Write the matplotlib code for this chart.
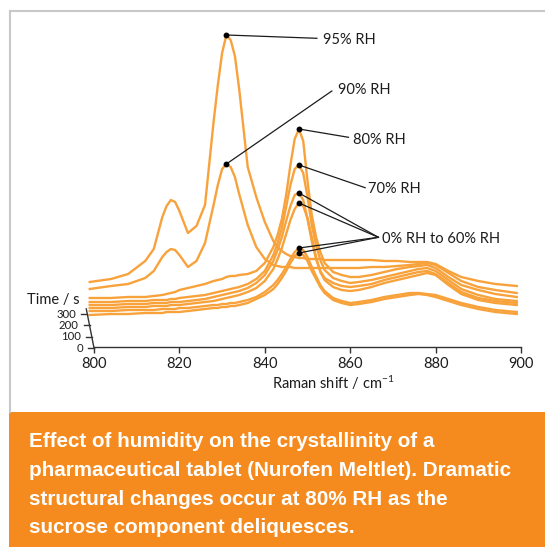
import matplotlib
matplotlib.use("Agg")
import matplotlib.pyplot as plt
from matplotlib.lines import Line2D
from matplotlib.patches import Rectangle
import numpy as np

plt.rcParams['font.family'] = ['Lato', 'DejaVu Sans']
plt.rcParams['mathtext.fontset'] = 'custom'
plt.rcParams['mathtext.rm'] = 'Lato'
plt.rcParams['mathtext.default'] = 'regular'

# ---------------------------------------------------------------- data
# Raman shift grid (cm-1) shared by all spectra
shift = [799, 804, 808, 812, 814, 816, 817, 818, 819, 820, 822, 824, 826, 828,
         829, 830, 831, 832, 833, 834, 836, 838, 840, 842, 843, 844, 845, 846,
         847, 848, 849, 850, 851, 852, 853, 854, 856, 858, 860, 862, 865, 868,
         871, 874, 876, 878, 880, 883, 886, 890, 894, 899]

# Stacked intensities (a.u., including waterfall offset)
rh95 = [65, 68, 73, 86, 98, 130, 141, 147, 145, 136, 114, 121, 142, 225,
        262, 294, 312, 307, 291, 258, 180, 150, 125, 106, 100, 96, 93, 91,
        90, 89, 89, 88, 88, 88, 88, 87, 87, 87, 87, 87, 87, 86,
        86, 85, 85, 85, 83, 76, 70, 66, 63, 61]
rh90 = [58, 61, 63, 69, 76, 90, 95, 98, 97, 92, 80, 86, 104, 142,
        162, 178, 183, 180, 170, 153, 122, 100, 88, 82, 81, 80, 80, 80,
        79, 79, 79, 79, 79, 79, 79, 79, 79, 79, 79, 79, 80, 80,
        81, 82, 83, 84, 82, 74, 66, 60, 57, 54]
rh80 = [49, 49, 50, 50, 51, 52, 53, 54, 55, 57, 59, 61, 63, 66,
        67, 68, 70, 71, 71, 72, 73, 76, 84, 100, 112, 128, 152, 182,
        208, 218, 206, 166, 132, 110, 95, 84, 75, 72, 70, 70, 72, 75,
        78, 80, 81, 82, 79, 70, 62, 57, 53, 50]
rh70 = [45, 45, 46, 46, 47, 47, 47, 48, 48, 49, 50, 51, 52, 54,
        55, 56, 57, 58, 59, 60, 63, 68, 76, 92, 104, 119, 140, 162,
        178, 182, 174, 150, 122, 102, 87, 77, 69, 66, 64, 65, 67, 70,
        73, 76, 78, 79, 76, 67, 58, 52, 48, 46]
rh_low1 = [42, 42, 43, 43, 44, 44, 44, 45, 45, 45, 46, 47, 48, 50,
           51, 52, 53, 54, 55, 56, 59, 64, 72, 86, 97, 110, 126, 141,
           152, 154, 147, 128, 106, 88, 76, 69, 64, 61, 60, 61, 63, 67,
           70, 73, 75, 76, 73, 64, 55, 49, 46, 44]
rh_low2 = [39, 39, 40, 40, 41, 41, 41, 42, 42, 42, 43, 44, 45, 46,
           47, 48, 49, 50, 51, 52, 55, 59, 66, 78, 88, 99, 113, 127,
           138, 144, 141, 129, 110, 90, 75, 67, 60, 57, 56, 57, 60, 64,
           67, 70, 72, 74, 72, 62, 53, 47, 44, 42]
rh_low3 = [36, 36, 37, 37, 37, 38, 38, 38, 38, 39, 39, 40, 41, 42,
           42, 43, 43, 44, 44, 45, 47, 50, 55, 62, 67, 73, 80, 88,
           95, 99, 97, 90, 80, 71, 62, 56, 49, 46, 44, 45, 47, 50,
           52, 54, 54, 53, 52, 48, 44, 40, 37, 35]
rh_low4 = [32, 33, 33, 34, 34, 34, 35, 35, 35, 35, 36, 37, 38, 39,
           39, 40, 40, 41, 41, 42, 44, 48, 52, 58, 63, 69, 76, 84,
           91, 94, 92, 86, 76, 68, 60, 54, 47, 44, 42, 43, 45, 48,
           50, 52, 53, 52, 50, 46, 42, 38, 35, 33]

spectra = [rh95, rh90, rh80, rh70, rh_low1, rh_low2, rh_low3, rh_low4]

x_ticks = [800, 820, 840, 860, 880, 900]
time_ticks = [0, 100, 200, 300]

labels = ["95% RH", "90% RH", "80% RH", "70% RH", "0% RH to 60% RH"]
caption = ["Effect of humidity on the crystallinity of a",
           "pharmaceutical tablet (Nurofen Meltlet). Dramatic",
           "structural changes occur at 80% RH as the",
           "sucrose component deliquesces."]

# ---------------------------------------------------------------- style
ORANGE = '#F8A23C'
BAND = '#F58B1F'
INK = '#1c1c1c'
W, H = 545, 547


def fx(px):
    return px / W


def fy(py):
    return 1 - py / H


fig = plt.figure(figsize=(W / 100, H / 100), dpi=100)
fig.patch.set_facecolor('white')

# caption band and light frame
fig.add_artist(Rectangle((fx(8.5), 0), 1 - fx(8.5), fy(411.7),
                         transform=fig.transFigure, facecolor=BAND,
                         edgecolor='none', zorder=0))
fig.add_artist(Line2D([fx(9.7), fx(9.7)], [fy(411.7), fy(10.8)],
                      transform=fig.transFigure, color='#c8c8c8', lw=1.5))
fig.add_artist(Line2D([fx(9.7), 1], [fy(10.8), fy(10.8)],
                      transform=fig.transFigure, color='#c8c8c8', lw=1.5))

baselines = [446.7, 476.0, 505.0, 533.0]
for line, yb in zip(caption, baselines):
    fig.text(fx(29), fy(yb), line, color='white', fontsize=14.9,
             fontweight='bold', family=['Liberation Sans', 'DejaVu Sans'],
             va='baseline', ha='left')

# ---------------------------------------------------------------- axes
ax = fig.add_axes([fx(94), fy(347), fx(521) - fx(94), fy(20) - fy(347)])
ax.set_xlim(800, 900)
ax.set_ylim(0, 327)
ax.patch.set_alpha(0)
for s in ['left', 'right', 'top']:
    ax.spines[s].set_visible(False)
ax.spines['bottom'].set_color('#333333')
ax.spines['bottom'].set_linewidth(1.0)
ax.set_yticks([])
ax.set_xticks(x_ticks)
ax.tick_params(axis='x', direction='out', length=4.3, width=1.0,
               color='#333333', labelsize=10.5, pad=3.0, labelcolor=INK)
ax.set_xlabel(r'Raman shift / cm$^{-1}$', fontsize=10.5, color=INK)
ax.xaxis.label.set_va('baseline')
ax.xaxis.set_label_coords(0.56, -0.129)

for ys in spectra:
    ax.plot(shift, ys, color=ORANGE, lw=1.7, clip_on=False,
            solid_joinstyle='round', zorder=2)

# peak markers
peaks = []
for ys in spectra:
    i = int(np.argmax(ys))
    peaks.append((shift[i], ys[i]))
    ax.plot(shift[i], ys[i], 'o', ms=3.2, color='black', zorder=5,
            clip_on=False)

# label leaders: (text x, text baseline, leader end x, leader end y)
label_pos = [(853.6, 303.5, 852.2, 308.7),
             (857.1, 253.5, 855.7, 256.0),
             (860.6, 203.5, 859.6, 209.7),
             (864.2, 154.0, 863.5, 159.3),
             (867.5, 104.0, 866.6, 109.7)]
targets = [[0], [1], [2], [3], [4, 5, 6, 7]]
for text, (tx, ty, ex, ey), tg in zip(labels, label_pos, targets):
    for k in tg:
        px, py = peaks[k]
        ax.plot([px, ex], [py, ey], color=INK, lw=0.9, zorder=4,
                clip_on=False)
    ax.text(tx, ty, text, fontsize=10.5, color=INK, ha='left',
            va='baseline', clip_on=False)

# oblique time axis of the waterfall
DX_PER_S = -0.00523
DY_PER_S = 0.1133


def time_xy(t):
    return 800 + DX_PER_S * t, -1 + DY_PER_S * t


x0, y0 = time_xy(0)
x1, y1 = time_xy(345)
ax.plot([x0, x1], [y0, y1], color='#333333', lw=1.0, clip_on=False)
for t in time_ticks:
    tx, ty = time_xy(t)
    ax.plot([tx - 1.4, tx], [ty, ty], color='#333333', lw=1.0,
            clip_on=False)
    ax.text(tx - 2.6, ty, str(t), fontsize=8.2, color=INK, ha='right',
            va='center', clip_on=False)
ax.text(796.7, 43, 'Time / s', fontsize=10.5, color=INK, ha='right',
        va='baseline', clip_on=False)

fig.savefig('out.png', dpi=100)
